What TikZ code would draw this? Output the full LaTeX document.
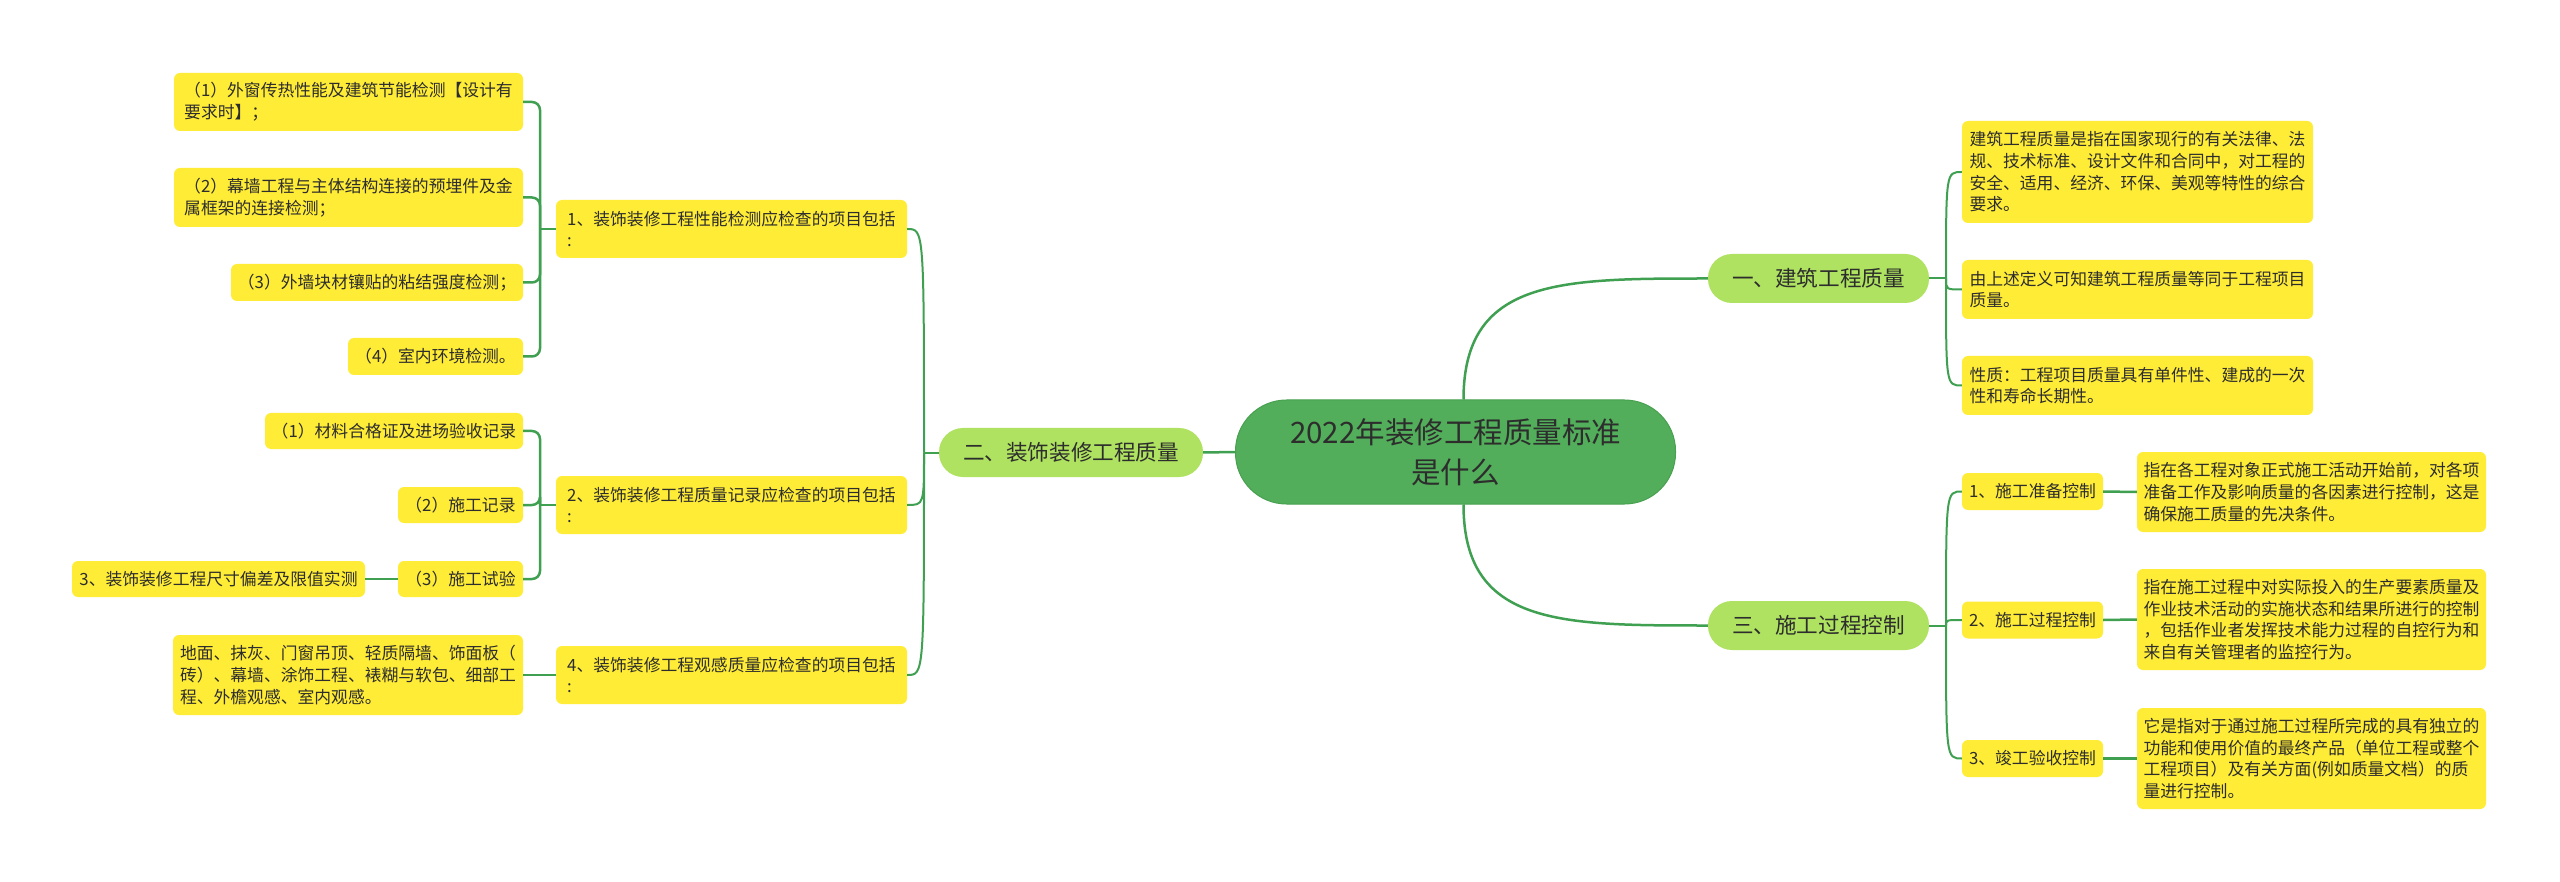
\documentclass[tikz,border=0pt]{standalone}
\usepackage{fontspec}
\setmainfont{Noto Sans CJK SC}
\definecolor{lineg}{RGB}{64,160,82}
\definecolor{rootg}{RGB}{82,174,90}
\definecolor{rootb}{RGB}{72,160,80}
\definecolor{lightg}{RGB}{174,226,96}
\definecolor{yel}{RGB}{255,236,54}
\definecolor{txt}{RGB}{45,45,45}
\begin{document}
\begin{tikzpicture}[x=1pt,y=-1pt,
  rootnode/.style={draw=rootb, line width=1pt, fill=rootg, rounded corners=51pt,
    inner sep=0pt, align=center, text=txt, font=\fontsize{29.5}{40}\selectfont},
  lone/.style={fill=lightg, rounded corners=24pt, inner sep=0pt, text=txt,
    font=\fontsize{21.6}{26}\selectfont},
  ybox/.style={fill=yel, rounded corners=6pt, inner sep=0pt, align=left, text=txt,
    font=\fontsize{16.8}{21.7}\selectfont},
  sz/.style 2 args={minimum width=#1pt, minimum height=#2pt},
  conn/.style={draw=lineg, line width=2.5pt},
  thin/.style={draw=lineg, line width=2pt}]
\useasboundingbox (0,0) rectangle (2560,882);
\fill[white] (0,0) rectangle (2560,882);

% root
\node[rootnode, sz={440}{104}] (root) at (1455.5,452) {2022年装修工程质量标准\\是什么};

% level 1
\node[lone, sz={221}{49}] (one) at (1818.5,278.5) {一、建筑工程质量};
\node[lone, sz={264}{49}] (two) at (1071,452.5) {二、装饰装修工程质量};
\node[lone, sz={221}{49}] (three) at (1818.5,625.5) {三、施工过程控制};

% branch one
\node[ybox, sz={351}{102}] (a) at (2137.5,172) {建筑工程质量是指在国家现行的有关法律、法\\规、技术标准、设计文件和合同中，对工程的\\安全、适用、经济、环保、美观等特性的综合\\要求。};
\node[ybox, sz={351}{59}] (b) at (2137.5,289.5) {由上述定义可知建筑工程质量等同于工程项目\\质量。};
\node[ybox, sz={351}{59}] (c) at (2137.5,385.5) {性质：工程项目质量具有单件性、建成的一次\\性和寿命长期性。};

% branch three
\node[ybox, sz={141}{37}] (p1) at (2032.5,491.5) {1、施工准备控制};
\node[ybox, sz={141}{37}] (p2) at (2032.5,620) {2、施工过程控制};
\node[ybox, sz={141}{37}] (p3) at (2032.5,758.5) {3、竣工验收控制};
\node[ybox, sz={349}{80}] (t1) at (2311.5,492) {指在各工程对象正式施工活动开始前，对各项\\准备工作及影响质量的各因素进行控制，这是\\确保施工质量的先决条件。};
\node[ybox, sz={349}{101}] (t2) at (2311.5,619.5) {指在施工过程中对实际投入的生产要素质量及\\作业技术活动的实施状态和结果所进行的控制\\，包括作业者发挥技术能力过程的自控行为和\\来自有关管理者的监控行为。};
\node[ybox, sz={349}{101}] (t3) at (2311.5,758.5) {它是指对于通过施工过程所完成的具有独立的\\功能和使用价值的最终产品（单位工程或整个\\工程项目）及有关方面(例如质量文档）的质\\量进行控制。};

% branch two
\node[ybox, sz={351}{58}] (s1) at (731.5,229) {1、装饰装修工程性能检测应检查的项目包括\\:};
\node[ybox, sz={351}{58}] (s2) at (731.5,505) {2、装饰装修工程质量记录应检查的项目包括\\:};
\node[ybox, sz={351}{58}] (s4) at (731.5,675) {4、装饰装修工程观感质量应检查的项目包括\\:};

\node[ybox, sz={349}{58}] (q1) at (348.5,102) {（1）外窗传热性能及建筑节能检测【设计有\\要求时】；};
\node[ybox, sz={349}{59}] (q2) at (348.5,197.5) {（2）幕墙工程与主体结构连接的预埋件及金\\属框架的连接检测；};
\node[ybox, sz={292}{37}] (q3) at (377,282.5) {（3）外墙块材镶贴的粘结强度检测；};
\node[ybox, sz={175}{37}] (q4) at (435.5,356.5) {（4）室内环境检测。};

\node[ybox, sz={258}{36}] (r1) at (394,431) {（1）材料合格证及进场验收记录};
\node[ybox, sz={125}{36}] (r2) at (460.5,505) {（2）施工记录};
\node[ybox, sz={125}{36}] (r3) at (460.5,579) {（3）施工试验};
\node[ybox, sz={293}{36}] (r3c) at (218.5,579) {3、装饰装修工程尺寸偏差及限值实测};

\node[ybox, sz={350}{80}] (u) at (348,675) {地面、抹灰、门窗吊顶、轻质隔墙、饰面板（\\砖）、幕墙、涂饰工程、裱糊与软包、细部工\\程、外檐观感、室内观感。};

% junction coordinates
\coordinate (j1) at (1946,278.5);
\coordinate (j3) at (1946,625.5);
\coordinate (j2) at (924,452.5);
\coordinate (js1) at (540,229);
\coordinate (js2) at (540,505);

% root connectors
\draw[conn] ([xshift=8pt]root.north) .. controls +(0,-121) and +(-148,0) .. (one.west);
\draw[conn] ([xshift=8pt]root.south) .. controls +(0,121) and +(-148,0) .. (three.west);
\draw[conn] (root.west) -- (two.east);

% one -> children
\draw[thin] (one.east) -- (j1);
\foreach \n in {a,b,c}{
  \draw[thin] (j1) .. controls (j1 |- \n.west) and (j1 |- \n.west) .. (\n.west);
}
% three -> children
\draw[thin] (three.east) -- (j3);
\foreach \n in {p1,p2,p3}{
  \draw[thin] (j3) .. controls (j3 |- \n.west) and (j3 |- \n.west) .. (\n.west);
}
\draw[conn] (p1.east) -- (t1.west);
\draw[conn] (p2.east) -- (t2.west);
\draw[conn] (p3.east) -- (t3.west);

% two -> children
\draw[thin] (two.west) -- (j2);
\foreach \n in {s1,s2,s4}{
  \draw[thin] (j2) .. controls (j2 |- \n.east) and (j2 |- \n.east) .. (\n.east);
}
% s1 -> children
\draw[conn] (s1.west) -- (js1);
\foreach \n in {q1,q2,q3,q4}{
  \draw[conn, rounded corners=8pt] (js1) |- (\n.east);
}
% s2 -> children
\draw[conn] (s2.west) -- (js2);
\foreach \n in {r1,r2,r3}{
  \draw[conn, rounded corners=8pt] (js2) |- (\n.east);
}
\draw[conn] (r3.west) -- (r3c.east);
\draw[conn] (s4.west) -- (u.east);
\end{tikzpicture}
\end{document}
